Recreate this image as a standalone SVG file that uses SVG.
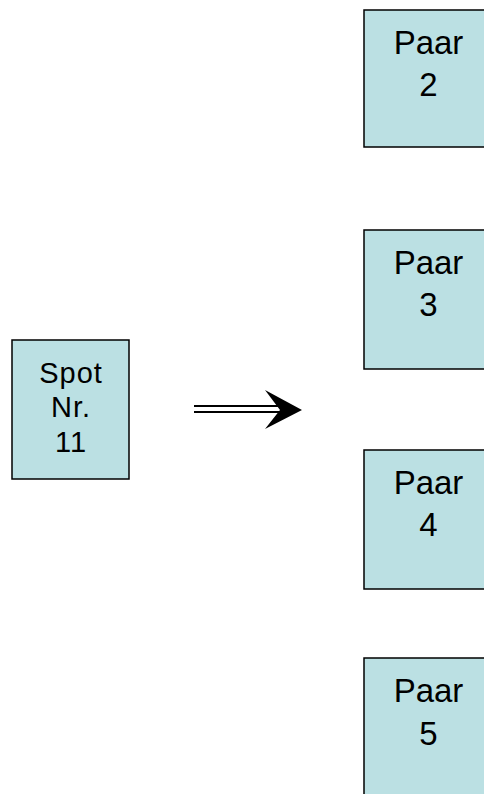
<svg xmlns="http://www.w3.org/2000/svg" width="484" height="794" viewBox="0 0 484 794">
<style>
.box{fill:#bbe0e3;stroke:#000;stroke-width:1.5}
.t{font-family:"Liberation Sans",Arial,sans-serif;fill:#000;text-anchor:middle}
.big{font-size:33px}
.small{font-size:29px;letter-spacing:1px}
</style>
<rect width="484" height="794" fill="#fff"/>
<g id="spot">
<rect class="box" x="12" y="340" width="117" height="139"/>
<text class="t small" x="71" y="383">Spot</text>
<text class="t small" x="71" y="417">Nr.</text>
<text class="t small" x="71" y="452">11</text>
</g>
<g id="paar2">
<rect class="box" x="364" y="10" width="128" height="137"/>
<text class="t big" x="428.5" y="54">Paar</text>
<text class="t big" x="428.5" y="96">2</text>
</g>
<g id="paar3">
<rect class="box" x="364" y="230" width="128" height="139"/>
<text class="t big" x="428.5" y="274">Paar</text>
<text class="t big" x="428.5" y="316">3</text>
</g>
<g id="paar4">
<rect class="box" x="364" y="450" width="128" height="139"/>
<text class="t big" x="428.5" y="494">Paar</text>
<text class="t big" x="428.5" y="536">4</text>
</g>
<g id="paar5">
<rect class="box" x="364" y="658" width="128" height="150"/>
<text class="t big" x="428.5" y="702">Paar</text>
<text class="t big" x="428.5" y="745">5</text>
</g>
<g id="connectors">
<line x1="194" y1="406" x2="282" y2="406" stroke="#000" stroke-width="2"/>
<line x1="194" y1="412" x2="282" y2="412" stroke="#000" stroke-width="2"/>
<polygon points="265,390 302,410 265,429 280,410" fill="#000"/>
</g>
</svg>
